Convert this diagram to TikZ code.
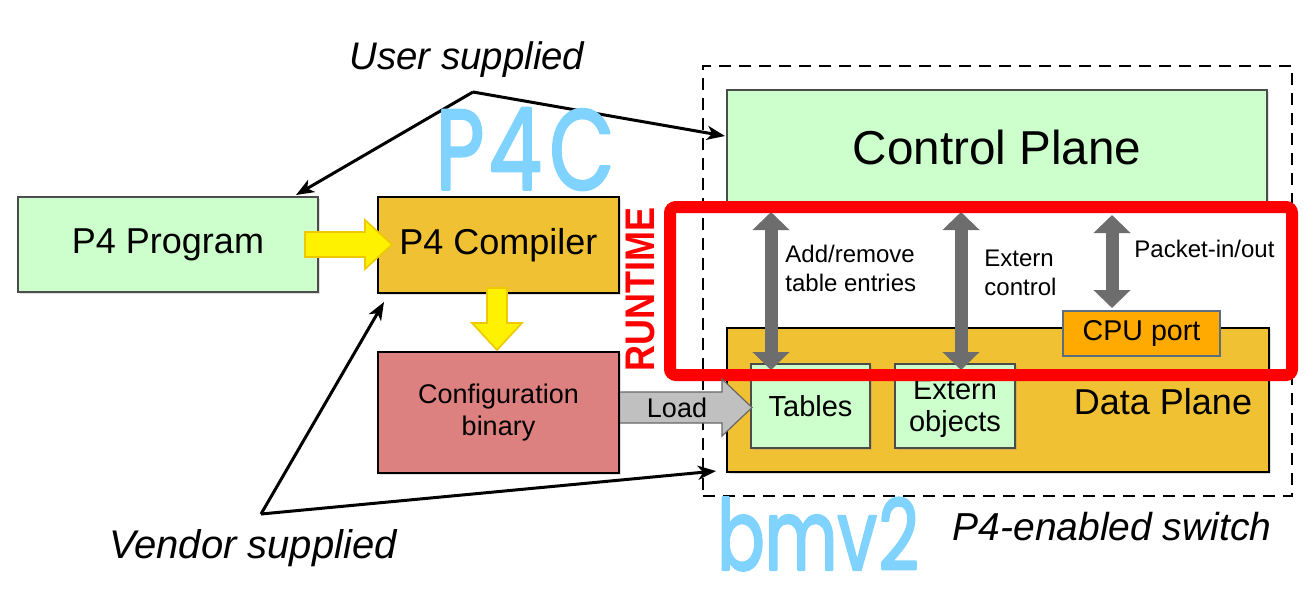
\documentclass[tikz,border=0pt]{standalone}
\usepackage{fontspec}
\setmainfont{Liberation Sans}
\newfontfamily\handfont{Poppins}
\usetikzlibrary{arrows.meta,shadows}
\definecolor{lgreen}{RGB}{204,255,204}
\definecolor{gold}{RGB}{240,193,50}
\definecolor{rose}{RGB}{221,128,128}
\definecolor{cpuorange}{RGB}{255,170,0}
\definecolor{darrow}{RGB}{109,109,109}
\definecolor{loadgrey}{RGB}{192,192,192}
\definecolor{hand}{RGB}{128,210,255}
\definecolor{yel}{RGB}{255,242,0}
\definecolor{yelborder}{RGB}{238,200,0}
\definecolor{cpuborder}{RGB}{90,110,130}
\newcommand\fsz[2]{\fontsize{#1pt}{#2pt}\selectfont}
\newcommand\thickink[2]{\special{pdf:literal direct 1 j 1 J #1 w 2 Tr}#2\special{pdf:literal direct 0 Tr}}
\begin{document}
\begin{tikzpicture}[x=0.5pt,y=-0.5pt,
  shadowed/.style={drop shadow={opacity=0.25,shadow xshift=1.2pt,shadow yshift=-1.2pt}},
  greenbox/.style={draw=black!70, line width=0.6pt, fill=lgreen, inner sep=0pt, shadowed},
  goldbox/.style={draw=black, line width=1.3pt, fill=gold, inner sep=0pt, shadowed},
  conn/.style={line width=1.5pt, -{Stealth[length=9pt,width=7pt,inset=2.5pt]}},
  garrow/.style={draw=darrow, line width=6.5pt, {Triangle[width=18pt,length=9pt]}-{Triangle[width=18pt,length=9pt]}},
  yarrow/.style={fill=yel, draw=yelborder, line width=0.8pt, line join=miter},
  larrow/.style={fill=loadgrey, draw=black!60, line width=0.6pt},
  lbl/.style={inner sep=0pt, font=\fsz{12}{14.5}, align=left},
  hw/.style={text=hand, inner sep=0pt}
]
\useasboundingbox (0,0) rectangle (1310,602);

% switch
\node[draw, line width=1.3pt, dash pattern=on 6pt off 4pt, minimum width=294.5pt, minimum height=215pt, inner sep=0pt] (sw) at (997.5,281) {};
\node[greenbox, minimum width=270pt, minimum height=57.5pt, font=\fsz{23.8}{28}] (cp) at (997,147.5) {Control Plane};
\node[goldbox, minimum width=271pt, minimum height=72pt] (dp) at (998,400) {};
\node[inner sep=0pt, font=\fsz{18}{21}] (dptext) at (1163,402) {Data Plane};
\node[draw=cpuborder, line width=0.6pt, fill=cpuorange, inner sep=0pt, minimum width=78.5pt, minimum height=22.5pt, font=\fsz{14.3}{17}] (cpu) at (1141.5,333.5) {CPU port};
\node[greenbox, minimum width=59.5pt, minimum height=42pt, font=\fsz{14.5}{16}] (tables) at (810.5,406) {Tables};
\node[greenbox, minimum width=60pt, minimum height=42pt] (ext) at (955,406) {};
\node[inner sep=0pt, font=\fsz{14.5}{16}, align=center] (exttxt) at (955,409) {Extern\\objects};

% runtime arrows
\coordinate (a1t) at (771,212);
\coordinate (a1b) at (771,370);
\coordinate (a2t) at (961,212);
\coordinate (a2b) at (961,370);
\coordinate (a3t) at (1112,215);
\coordinate (a3b) at (1112,308);
\draw[garrow] (a1t) -- (a1b);
\draw[garrow] (a2t) -- (a2b);
\draw[garrow] (a3t) -- (a3b);
\node[lbl, anchor=west] (l1) at (785,268) {Add/remove\\table entries};
\node[lbl, anchor=west] (l2) at (984,273) {Extern\\control};
\node[lbl, anchor=west] (l3) at (1134,249) {Packet-in/out};

% runtime box
\node[draw=red, line width=6pt, rounded corners=3pt, minimum width=311pt, minimum height=84pt, inner sep=0pt] (rt) at (981,291) {};
\node[rotate=90, text=red, inner sep=0pt, font=\fsz{18}{20}\bfseries] (rtl) at (640,289) {\scalebox{1}[1.15]{RUNTIME}};

% left side
\node[greenbox, minimum width=150pt, minimum height=47.5pt, font=\fsz{18}{21}] (prog) at (168,244.5) {P4 Program};
\node[goldbox, minimum width=120.5pt, minimum height=48pt, font=\fsz{18}{21}] (comp) at (498.5,245) {P4 Compiler};

% load arrow (behind the binary box)
\coordinate (ld) at (619,407.5);
\draw[larrow] (ld) ++(0,-15.5) -- ++(103,0) -- ++(0,-13) -- ++(30,28.5) -- ++(-30,28.5) -- ++(0,-13) -- ++(-103,0) -- cycle;
\node[draw=black, line width=1.3pt, fill=rose, inner sep=0pt, shadowed, minimum width=120.5pt, minimum height=60.5pt, font=\fsz{13.5}{16}, align=center] (conf) at (498.5,412.5) {Configuration\\binary};
\node[inner sep=0pt, font=\fsz{13.5}{16}] (loadtxt) at (677,408) {Load};

% yellow arrows
\coordinate (ya1) at (305,244.5);
\draw[yarrow] (ya1) ++(0,-12.5) -- ++(60,0) -- ++(0,-12) -- ++(27,24.5) -- ++(-27,24.5) -- ++(0,-12) -- ++(-60,0) -- cycle;
\coordinate (ya2) at (497,288);
\draw[yarrow] (ya2) ++(-10,0) -- ++(20,0) -- ++(0,35) -- ++(15,0) -- ++(-25,27) -- ++(-25,-27) -- ++(15,0) -- cycle;

% annotations
\node[inner sep=0pt, font=\fsz{19.2}{22}\itshape] (usr) at (467,60) {User supplied};
\node[inner sep=0pt, font=\fsz{20}{22}\itshape] (vnd) at (253,548) {Vendor supplied};
\node[inner sep=0pt, font=\fsz{19.5}{22}\itshape] (p4sw) at (1112,527) {P4-enabled switch};

\coordinate (uap) at (473,92);
\coordinate (u1) at (296,195);
\coordinate (u2) at (725,136);
\draw[conn] (uap) -- (u1);
\draw[conn] (uap) -- (u2);

\coordinate (vap) at (261,514);
\coordinate (v1) at (384,302);
\coordinate (v2) at (716,471);
\draw[conn] (vap) -- (v1);
\draw[conn] (vap) -- (v2);

% handwriting
\node[hw, font=\handfont\fsz{57}{60}] (p4c) at (525,149) {\scalebox{0.74}[1]{\thickink{1.3}{P\kern3pt 4\kern5pt C}}};
\node[hw, font=\handfont\fsz{49}{52}] (bmv) at (818,534) {\scalebox{0.72}[1]{\thickink{1.3}{bmv\kern1pt 2}}};
\end{tikzpicture}
\end{document}
